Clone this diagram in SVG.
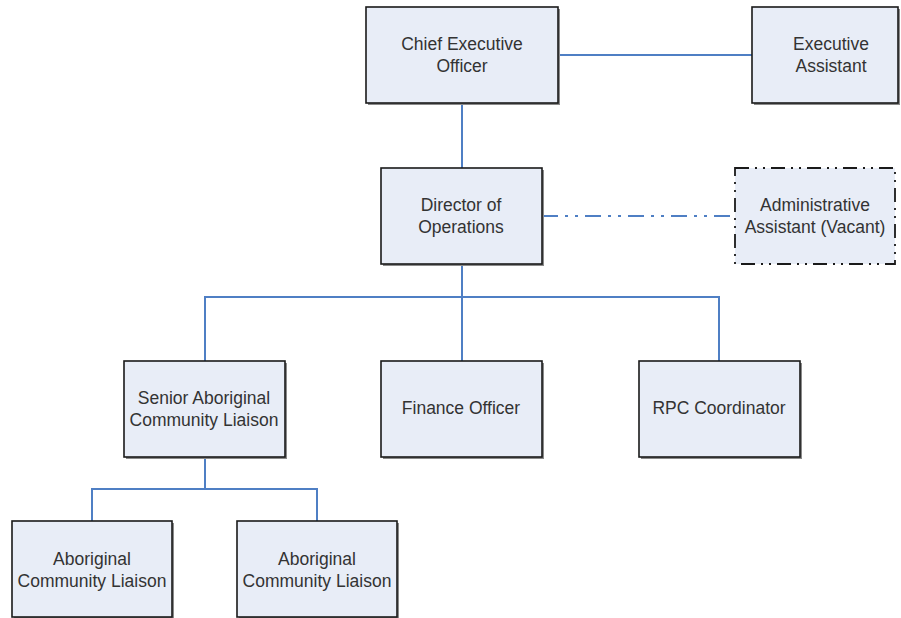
<svg xmlns="http://www.w3.org/2000/svg" width="901" height="618" viewBox="0 0 901 618">
<style>
.box{fill:#e8edf7;stroke:#1a1a1a;stroke-width:1.6}
.sh{fill:#8a8a8a}
.t{font-family:"Liberation Sans",Arial,sans-serif;font-size:17.5px;fill:#333;text-anchor:middle}
.c{stroke:#4f7fc4;stroke-width:2;fill:none}
.dd{stroke-dasharray:16 7 3 7 3 7}
.vac{fill:#e8edf7;stroke:#1a1a1a;stroke-width:1.8;stroke-dasharray:14 6 2 6 2 6}
</style>
<rect width="901" height="618" fill="#fff"/>
<g id="connectors">
<path class="c" d="M558 55H752"/>
<path class="c" d="M462 103V168"/>
<path class="c dd" d="M542 216H735"/>
<path class="c" d="M462 264V297M205 361V297H719V361M462 297V361"/>
<path class="c" d="M205 457V489M92 521V489H317V521"/>
</g>
<g id="ceo">
<rect class="sh" x="368" y="9" width="192" height="96"/>
<rect class="box" x="366" y="7" width="192" height="96"/>
<text class="t" x="462" y="49.5">Chief Executive</text>
<text class="t" x="462" y="71.5">Officer</text>
</g>
<g id="exec-assistant">
<rect class="sh" x="754" y="9" width="146" height="96"/>
<rect class="box" x="752" y="7" width="146" height="96"/>
<text class="t" x="831" y="49.5">Executive</text>
<text class="t" x="831" y="71.5">Assistant</text>
</g>
<g id="director">
<rect class="sh" x="383" y="170" width="161" height="96"/>
<rect class="box" x="381" y="168" width="161" height="96"/>
<text class="t" x="461" y="210.5">Director of</text>
<text class="t" x="461" y="232.5">Operations</text>
</g>
<g id="admin-assistant">
<rect class="vac" x="735" y="168" width="160" height="96"/>
<text class="t" x="815" y="210.5">Administrative</text>
<text class="t" x="815" y="232.5">Assistant (Vacant)</text>
</g>
<g id="senior-liaison">
<rect class="sh" x="126" y="363" width="161" height="96"/>
<rect class="box" x="124" y="361" width="161" height="96"/>
<text class="t" x="204" y="403.5">Senior Aboriginal</text>
<text class="t" x="204" y="425.5">Community Liaison</text>
</g>
<g id="finance">
<rect class="sh" x="383" y="363" width="161" height="96"/>
<rect class="box" x="381" y="361" width="161" height="96"/>
<text class="t" x="461" y="414">Finance Officer</text>
</g>
<g id="rpc">
<rect class="sh" x="641" y="363" width="161" height="96"/>
<rect class="box" x="639" y="361" width="161" height="96"/>
<text class="t" x="719" y="414">RPC Coordinator</text>
</g>
<g id="liaison-1">
<rect class="sh" x="14" y="523" width="160" height="96"/>
<rect class="box" x="12" y="521" width="160" height="96"/>
<text class="t" x="92" y="564.5">Aboriginal</text>
<text class="t" x="92" y="586.5">Community Liaison</text>
</g>
<g id="liaison-2">
<rect class="sh" x="239" y="523" width="160" height="96"/>
<rect class="box" x="237" y="521" width="160" height="96"/>
<text class="t" x="317" y="564.5">Aboriginal</text>
<text class="t" x="317" y="586.5">Community Liaison</text>
</g>
</svg>
